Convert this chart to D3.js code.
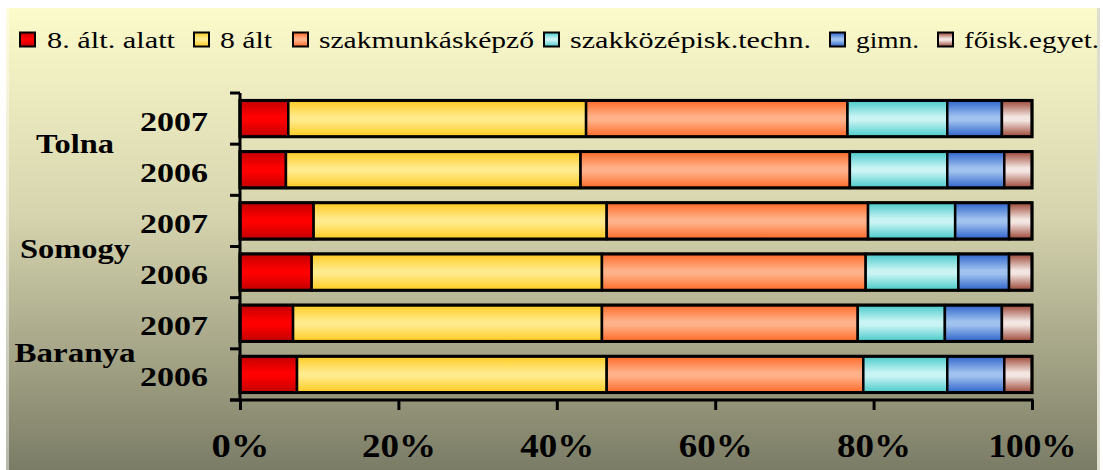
<!DOCTYPE html>
<html lang="hu">
<head>
<meta charset="UTF-8" />
<title>Iskolai végzettség megyénként</title>
<script src="https://cdn.jsdelivr.net/npm/d3@7"></script>
<style>
  body { margin: 0; background: #fff; }
  svg { display: block; }
</style>
</head>
<body>
<div id="chart"></div>
<script>
// data (percent of each row)
var regions = ["Tolna", "Somogy", "Baranya"];
var years = ["2007", "2006"];
var series = ["8. ált. alatt", "8 ált", "szakmunkásképző", "szakközépisk.techn.", "gimn.", "főisk.egyet."];
var alatt8   = [6.1, 5.8, 9.3, 9.05, 6.7, 7.2];
var alt8     = [37.6, 37.2, 37.0, 36.65, 39.0, 39.1];
var szakmunk = [33.0, 34.0, 33.0, 33.3, 32.3, 32.4];
var szakkoz  = [12.6, 12.3, 11.0, 11.7, 11.0, 10.6];
var gimn     = [6.9, 7.2, 6.8, 6.4, 7.2, 7.2];
var foisk    = [3.8, 3.5, 2.9, 2.9, 3.8, 3.5];
var xTicks = [0, 20, 40, 60, 80, 100];

var W = 1103, H = 470;
var x0 = 240, x1 = 1032, yTop = 93, yBot = 400;

// colours: [edge, middle] of each bar's vertical shading
var shades = [
  ["#c20000", "#ff0000"],
  ["#ffcb20", "#ffea8c"],
  ["#ff6a28", "#ffb28a"],
  ["#48caca", "#caf4f4"],
  ["#2e64cc", "#a0c2ee"],
  ["#9c4636", "#f3e6e2"]
];

var rows = [];
regions.forEach(function(r) {
  years.forEach(function(y) { rows.push(r + " " + y); });
});
var cols = [alatt8, alt8, szakmunk, szakkoz, gimn, foisk];
var table = rows.map(function(k, i) {
  var d = { key: k };
  series.forEach(function(s, j) { d[s] = cols[j][i]; });
  return d;
});
var stacked = d3.stack().keys(series)(table);

var svg = d3.select("#chart").append("svg")
  .attr("width", W).attr("height", H);

var defs = svg.append("defs");
var bg = defs.append("linearGradient").attr("id", "bg")
  .attr("x1", 0).attr("y1", 0).attr("x2", 0).attr("y2", 1);
bg.append("stop").attr("offset", 0).attr("stop-color", "#fcfbcb");
bg.append("stop").attr("offset", 0.45).attr("stop-color", "#d6d4ae");
bg.append("stop").attr("offset", 1).attr("stop-color", "#7b7c66");

shades.forEach(function(c, i) {
  var g = defs.append("linearGradient").attr("id", "g" + i)
    .attr("x1", 0).attr("y1", 0).attr("x2", 0).attr("y2", 1);
  g.append("stop").attr("offset", 0).attr("stop-color", c[0]);
  g.append("stop").attr("offset", 0.45).attr("stop-color", c[1]);
  g.append("stop").attr("offset", 0.55).attr("stop-color", c[1]);
  g.append("stop").attr("offset", 1).attr("stop-color", c[0]);
});

// background panel
svg.append("rect").attr("x", 6).attr("y", 8).attr("width", 1091).attr("height", H - 8)
  .attr("fill", "url(#bg)");
svg.append("rect").attr("x", 6).attr("y", 8).attr("width", 3).attr("height", H - 8)
  .attr("fill", "#fff").attr("opacity", 0.45);
svg.append("rect").attr("x", 1097).attr("y", 8).attr("width", 3).attr("height", H - 8)
  .attr("fill", "#ddddd0");

var xScale = d3.scaleLinear().domain([0, 100]).range([x0, x1]);
var yScale = d3.scaleBand().domain(rows).range([yTop, yBot])
  .paddingInner(0.29).paddingOuter(0.145);

// bars
var layer = svg.selectAll(".layer")
  .data(stacked)
  .enter().append("g")
  .attr("class", "layer")
  .attr("fill", function(d, i) { return "url(#g" + i + ")"; });

layer.selectAll("rect")
  .data(function(d) { return d; })
  .enter().append("rect")
  .attr("x", function(d) { return xScale(d[0]); })
  .attr("y", function(d) { return yScale(d.data.key); })
  .attr("width", function(d) { return xScale(d[1]) - xScale(d[0]); })
  .attr("height", yScale.bandwidth())
  .attr("stroke", "#000")
  .attr("stroke-width", 2.5);

svg.selectAll(".outline")
  .data(rows)
  .enter().append("rect")
  .attr("class", "outline")
  .attr("x", xScale(0)).attr("y", function(d) { return yScale(d); })
  .attr("width", xScale(100) - xScale(0)).attr("height", yScale.bandwidth())
  .attr("fill", "none").attr("stroke", "#000").attr("stroke-width", 3);

// y axis with ticks on the band boundaries
var bounds = d3.range(rows.length + 1).map(function(i) { return yTop + i * (yBot - yTop) / rows.length; });
svg.append("line").attr("x1", x0).attr("x2", x0).attr("y1", yTop).attr("y2", yBot + 1.5)
  .attr("stroke", "#000").attr("stroke-width", 3);
svg.selectAll(".ytick").data(bounds).enter().append("line")
  .attr("x1", x0 - 10).attr("x2", x0)
  .attr("y1", function(d) { return d; }).attr("y2", function(d) { return d; })
  .attr("stroke", "#000").attr("stroke-width", 3);

// x axis
var xAxis = d3.axisBottom(xScale).tickValues(xTicks).tickSize(10)
  .tickFormat(function(d) { return d + "%"; });
var gx = svg.append("g").attr("transform", "translate(0," + yBot + ")").call(xAxis);
gx.select(".domain").remove();
gx.selectAll(".tick line").attr("stroke", "#000").attr("stroke-width", 3);
gx.append("line").attr("x1", x0 - 10).attr("x2", x1 + 1.5).attr("y1", 0).attr("y2", 0)
  .attr("stroke", "#000").attr("stroke-width", 3);
gx.selectAll(".tick text")
  .attr("y", 57).attr("dy", null)
  .attr("fill", "#000")
  .style("font-family", "'Liberation Serif', serif")
  .style("font-weight", "bold")
  .style("font-size", "33px")
  .attr("textLength", function(d) { return d === 0 ? 58 : d === 100 ? 88 : 74; })
  .attr("lengthAdjust", "spacingAndGlyphs");

// year labels
svg.selectAll(".year").data(rows).enter().append("text")
  .attr("x", 208).attr("text-anchor", "end")
  .attr("y", function(d) { return yScale(d) + yScale.bandwidth() / 2 + 12; })
  .style("font-family", "'Liberation Serif', serif")
  .style("font-weight", "bold").style("font-size", "28px")
  .attr("textLength", 68).attr("lengthAdjust", "spacingAndGlyphs")
  .text(function(d) { return d.split(" ")[1]; });

// region labels
var regionLen = [78, 110, 121];
svg.selectAll(".region").data(regions).enter().append("text")
  .attr("x", 75).attr("text-anchor", "middle")
  .attr("y", function(d, i) { return bounds[i * 2 + 1] + 9 + i * 2; })
  .style("font-family", "'Liberation Serif', serif")
  .style("font-weight", "bold").style("font-size", "28px")
  .attr("textLength", function(d, i) { return regionLen[i]; })
  .attr("lengthAdjust", "spacingAndGlyphs")
  .text(function(d) { return d; });

// legend
var legX = [20, 194, 293, 544, 830, 938];
var legLen = [128, 52, 215, 241, 63, 135];
var leg = svg.selectAll(".leg").data(series).enter().append("g")
  .attr("transform", function(d, i) { return "translate(" + legX[i] + ",0)"; });
leg.append("rect").attr("x", 0).attr("y", 32.5).attr("width", 15).attr("height", 14)
  .attr("fill", function(d, i) { return "url(#g" + i + ")"; })
  .attr("stroke", "#000").attr("stroke-width", 2);
leg.append("text").attr("x", function(d, i) { return i === 0 ? 27 : 26; }).attr("y", 47.5)
  .style("font-family", "'Liberation Serif', serif")
  .style("font-size", "24px")
  .attr("textLength", function(d, i) { return legLen[i]; })
  .attr("lengthAdjust", "spacingAndGlyphs")
  .text(function(d) { return d; });
</script>
</body>
</html>
